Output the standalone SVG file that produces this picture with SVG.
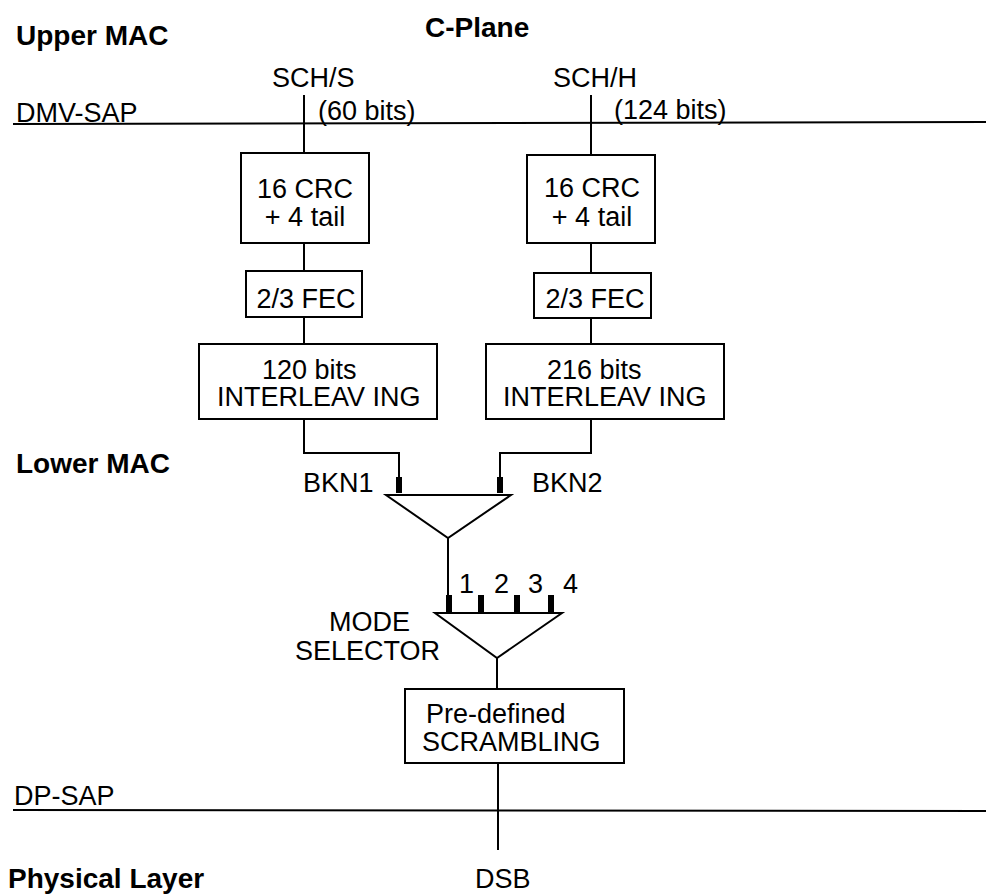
<svg xmlns="http://www.w3.org/2000/svg" width="986" height="895" viewBox="0 0 986 895">
<style>
text{font-family:"Liberation Sans",Arial,sans-serif;font-size:27px;fill:#000}
.b{font-weight:bold;font-size:28px}
.m{text-anchor:middle}
.box{fill:#fff;stroke:#000;stroke-width:2}
.ln{fill:none;stroke:#000;stroke-width:2}
.tk{fill:#000}
</style>
<rect width="986" height="895" fill="#fff"/>
<g id="labels">
<text class="b" x="16" y="45">Upper MAC</text>
<text class="b" x="425" y="37">C-Plane</text>
<text class="b" x="16" y="473">Lower MAC</text>
<text class="b" x="8" y="888">Physical Layer</text>
<text x="16" y="122">DMV-SAP</text>
<text x="14" y="805">DP-SAP</text>
<text x="272" y="87">SCH/S</text>
<text x="318" y="120">(60 bits)</text>
<text x="553" y="87">SCH/H</text>
<text x="614" y="119">(124 bits)</text>
<text x="475" y="888">DSB</text>
</g>
<g id="connectors">
<line class="ln" x1="13" y1="124" x2="986" y2="122"/>
<line class="ln" x1="13" y1="810" x2="986" y2="811"/>
<line class="ln" x1="304" y1="95" x2="304" y2="153"/>
<line class="ln" x1="304" y1="243" x2="304" y2="271"/>
<line class="ln" x1="304" y1="317" x2="304" y2="344"/>
<path class="ln" d="M304 419V453H399V477"/>
<line class="ln" x1="591" y1="95" x2="591" y2="155"/>
<line class="ln" x1="591" y1="243" x2="591" y2="273"/>
<line class="ln" x1="591" y1="318" x2="591" y2="344"/>
<path class="ln" d="M591 419V453H500V477"/>
<line class="ln" x1="448" y1="538" x2="448" y2="595"/>
<line class="ln" x1="497" y1="658" x2="497" y2="689"/>
<line class="ln" x1="498" y1="763" x2="498" y2="850"/>
</g>
<g id="crc1"><rect class="box" x="241" y="153" width="128" height="90"/><text class="m" x="305" y="198">16 CRC</text><text class="m" x="305" y="226">+ 4 tail</text></g>
<g id="fec1"><rect class="box" x="246" y="271" width="116" height="46"/><text class="m" x="306" y="308">2/3 FEC</text></g>
<g id="int1"><rect class="box" x="199" y="344" width="238" height="75"/><text x="262" y="379">120 bits</text><text x="217" y="406">INTERLEAV ING</text></g>
<g id="crc2"><rect class="box" x="527" y="155" width="128" height="88"/><text class="m" x="592" y="197">16 CRC</text><text class="m" x="592" y="226">+ 4 tail</text></g>
<g id="fec2"><rect class="box" x="534" y="273" width="117" height="45"/><text class="m" x="595" y="308">2/3 FEC</text></g>
<g id="int2"><rect class="box" x="486" y="344" width="238" height="75"/><text x="547" y="379">216 bits</text><text x="503" y="406">INTERLEAV ING</text></g>
<g id="switch1">
<rect class="tk" x="396" y="477" width="6" height="16"/>
<rect class="tk" x="497" y="477" width="6" height="16"/>
<polygon class="ln" points="386,495 511,495 448,538"/>
<text x="303" y="492">BKN1</text>
<text x="532" y="492">BKN2</text>
</g>
<g id="modeselector">
<rect class="tk" x="446" y="595" width="6" height="17"/>
<rect class="tk" x="478" y="595" width="6" height="17"/>
<rect class="tk" x="514" y="595" width="6" height="17"/>
<rect class="tk" x="548" y="595" width="6" height="17"/>
<polygon class="ln" points="435,613 562,613 497,658"/>
<text x="459" y="593">1</text>
<text x="494" y="593">2</text>
<text x="528" y="593">3</text>
<text x="563" y="593">4</text>
<text x="329" y="631">MODE</text>
<text x="295" y="660">SELECTOR</text>
</g>
<g id="scrambling"><rect class="box" x="405" y="689" width="219" height="74"/><text x="426" y="723">Pre-defined</text><text x="422" y="751">SCRAMBLING</text></g>
</svg>
